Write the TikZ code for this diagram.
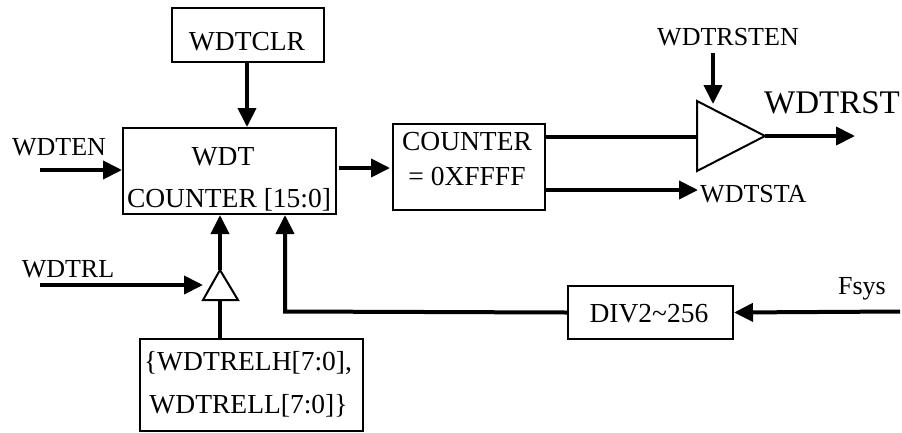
\documentclass[tikz,border=0pt]{standalone}
\usepackage{fontspec}
\setmainfont{Liberation Serif}
\usetikzlibrary{arrows.meta}
\begin{document}
\begin{tikzpicture}[x=1pt,y=-1pt,
  blk/.style={draw,line width=2pt,inner sep=0pt,anchor=north west},
  txt/.style={inner sep=0pt,anchor=base,font=\fontsize{27.5}{30}\selectfont},
  lbl/.style={inner sep=0pt,anchor=base,font=\fontsize{26}{30}\selectfont},
  wire/.style={line width=4pt},
  arr/.style={line width=4pt,-{Triangle[length=19pt,width=18pt]}},
  buf/.style={draw,line width=2pt,line join=miter,fill=white}]
\useasboundingbox (0,0) rectangle (902,432);
% boxes
\node[blk,minimum width=152pt,minimum height=54pt] (clr) at (171,7) {};
\node[blk,minimum width=213pt,minimum height=86pt] (cnt) at (122,127) {};
\node[blk,minimum width=152pt,minimum height=86pt] (cmp) at (392,123) {};
\node[blk,minimum width=165pt,minimum height=53pt] (div) at (567,285) {};
\node[blk,minimum width=223pt,minimum height=92pt] (rel) at (139,338) {};
% box texts
\node[txt] (clrT) at (247,50) {WDTCLR};
\node[txt] (cntT1) at (223,165) {WDT};
\node[txt] (cntT2) at (229,207) {COUNTER [15:0]};
\node[txt] (cmpT1) at (467,150) {COUNTER};
\node[txt] (cmpT2) at (467,185) {= 0XFFFF};
\node[txt] (divT) at (649,322) {DIV2\char`~256};
\node[txt] (relT1) at (248,370) {\{WDTRELH[7:0],};
\node[txt] (relT2) at (248.5,413) {WDTRELL[7:0]\}};
% labels
\node[lbl] (en) at (59,155) {WDTEN};
\node[lbl] (rl) at (68,277) {WDTRL};
\node[lbl] (fs) at (862,294) {Fsys};
\node[lbl] (rsten) at (728,45) {WDTRSTEN};
\node[lbl,font=\fontsize{33}{36}\selectfont] (rst) at (832,113) {WDTRST};
\node[lbl,anchor=base west] (sta) at (700,202) {WDTSTA};
% buffers
\coordinate (sbA) at (220,270);
\coordinate (sbB) at (220,300);
\draw[buf] (203,300) -- (sbA) -- (238,300) -- cycle;
\coordinate (bbIn) at (697,136.5);
\coordinate (bbOut) at (765,136);
\draw[buf] (697,101) -- (bbOut) -- (697,171) -- cycle;
% coordinates for free ends
\coordinate (enS) at (40,170);
\coordinate (rlS) at (40,285);
\coordinate (rlE) at (203,285);
\coordinate (fsS) at (900,311.5);
\coordinate (cntOut) at (339,168);
\coordinate (cmpIn) at (390,168);
\coordinate (staE) at (698,190);
\coordinate (rstE) at (855,136);
\coordinate (rstenS) at (713,53);
\coordinate (rstenE) at (713,104);
\coordinate (fb) at (285,311.5);
% connectors
\draw[arr] (clr.south -| clrT) -- (clrT |- cnt.north);
\draw[arr] (enS) -- (enS -| cnt.west);
\draw[arr] (cntOut) -- (cmpIn);
\draw[wire] (cmp.east |- bbIn) -- (bbIn);
\draw[arr] (cmp.east |- staE) -- (staE);
\draw[arr] (bbOut) -- (rstE);
\draw[arr] (rstenS) -- (rstenE);
\draw[arr] (sbA) -- (sbA |- cnt.south);
\draw[wire] (sbB) -- (sbB |- rel.north);
\draw[arr] (rlS) -- (rlE);
\draw[arr] (div.west) -- (fb) -- (fb |- cnt.south);
\draw[arr] (fsS) -- (div.east);
\end{tikzpicture}
\end{document}
